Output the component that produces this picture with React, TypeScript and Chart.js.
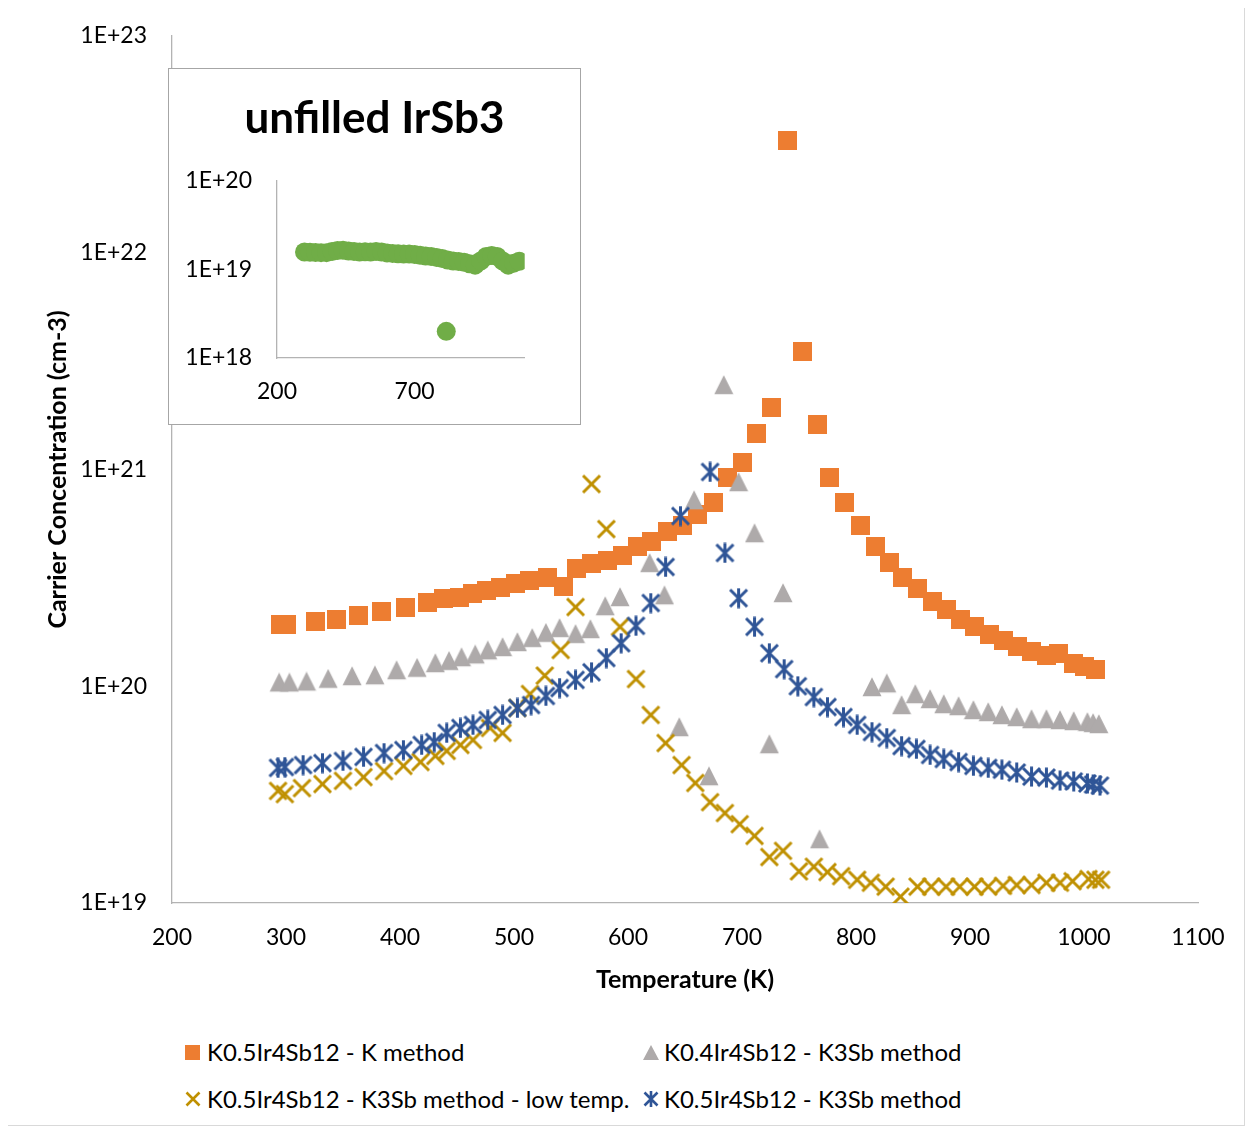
import React, { useEffect, useRef } from 'react';
import { Chart, registerables } from 'chart.js';

Chart.register(...registerables);

const FONT = 'Lato, "Open Sans", sans-serif';

// K0.5Ir4Sb12 - K method
const kMethodTemp = [295, 300, 326, 344, 364, 384, 405, 424, 438, 452, 464, 476, 488, 501, 514, 529, 543, 555, 568, 582, 595, 608, 621, 635, 648, 661, 675, 687, 700, 713, 726, 740, 753, 766, 777, 790, 804, 817, 829, 841, 854, 867, 879, 892, 904, 917, 929, 942, 954, 967, 978, 991, 1000, 1010];
const kMethodConc = [1.92e20, 1.93e20, 1.99e20, 2.04e20, 2.13e20, 2.21e20, 2.31e20, 2.43e20, 2.55e20, 2.58e20, 2.68e20, 2.76e20, 2.86e20, 2.97e20, 3.07e20, 3.17e20, 2.88e20, 3.51e20, 3.70e20, 3.82e20, 4.03e20, 4.39e20, 4.63e20, 5.15e20, 5.49e20, 6.23e20, 7.08e20, 9.23e20, 1.08e21, 1.47e21, 1.94e21, 3.28e22, 3.52e21, 1.62e21, 9.14e20, 7.08e20, 5.49e20, 4.39e20, 3.74e20, 3.19e20, 2.81e20, 2.45e20, 2.27e20, 2.04e20, 1.88e20, 1.74e20, 1.62e20, 1.52e20, 1.45e20, 1.38e20, 1.41e20, 1.27e20, 1.24e20, 1.20e20];

// K0.4Ir4Sb12 - K3Sb method
const k04Temp = [294, 303, 318, 337, 358, 378, 397, 415, 431, 443, 454, 466, 477, 490, 503, 516, 528, 540, 554, 567, 580, 593, 619, 632, 645, 658, 671, 684, 697, 711, 724, 736, 768, 814, 827, 840, 852, 865, 877, 890, 903, 916, 928, 941, 954, 967, 979, 991, 1003, 1008, 1013];
const k04Conc = [1.01e20, 1.01e20, 1.02e20, 1.05e20, 1.08e20, 1.09e20, 1.15e20, 1.18e20, 1.24e20, 1.27e20, 1.32e20, 1.36e20, 1.42e20, 1.47e20, 1.55e20, 1.62e20, 1.71e20, 1.80e20, 1.69e20, 1.78e20, 2.27e20, 2.50e20, 3.59e20, 2.55e20, 6.28e19, 7.00e20, 3.73e19, 2.38e21, 8.48e20, 4.93e20, 5.24e19, 2.61e20, 1.91e19, 9.61e19, 1.00e20, 7.94e19, 8.92e19, 8.46e19, 8.02e19, 7.85e19, 7.53e19, 7.37e19, 7.14e19, 6.99e19, 6.84e19, 6.84e19, 6.77e19, 6.70e19, 6.63e19, 6.56e19, 6.49e19];

// K0.5Ir4Sb12 - K3Sb method - low temp.
const lowTemp = [293, 299, 314, 332, 350, 368, 386, 403, 418, 431, 441, 453, 464, 479, 490, 503, 514, 527, 541, 554, 568, 581, 593, 607, 620, 633, 647, 659, 672, 685, 698, 711, 724, 736, 750, 763, 775, 787, 801, 813, 826, 839, 854, 866, 879, 891, 904, 916, 929, 941, 954, 967, 979, 990, 1004, 1010, 1015];
const lowConc = [3.29e19, 3.18e19, 3.39e19, 3.54e19, 3.66e19, 3.81e19, 4.06e19, 4.29e19, 4.47e19, 4.77e19, 5.03e19, 5.36e19, 5.65e19, 6.42e19, 6.09e19, 7.94e19, 9.21e19, 1.12e20, 1.47e20, 2.32e20, 8.57e20, 5.31e20, 1.88e20, 1.08e20, 7.37e19, 5.47e19, 4.33e19, 3.58e19, 2.92e19, 2.60e19, 2.31e19, 2.04e19, 1.63e19, 1.74e19, 1.40e19, 1.47e19, 1.39e19, 1.33e19, 1.28e19, 1.24e19, 1.19e19, 1.07e19, 1.19e19, 1.19e19, 1.19e19, 1.19e19, 1.19e19, 1.19e19, 1.20e19, 1.21e19, 1.21e19, 1.24e19, 1.24e19, 1.26e19, 1.29e19, 1.28e19, 1.28e19];

// K0.5Ir4Sb12 - K3Sb method
const k05Temp = [293, 299, 315, 332, 350, 368, 386, 403, 419, 430, 441, 453, 464, 477, 490, 503, 515, 528, 540, 554, 568, 581, 594, 607, 620, 633, 646, 672, 685, 697, 711, 724, 737, 749, 763, 775, 789, 801, 814, 827, 840, 853, 865, 877, 890, 903, 916, 928, 941, 954, 967, 979, 991, 1003, 1008, 1014];
const k05Conc = [4.20e19, 4.24e19, 4.33e19, 4.42e19, 4.52e19, 4.72e19, 4.92e19, 5.08e19, 5.36e19, 5.53e19, 6.09e19, 6.42e19, 6.63e19, 6.99e19, 7.37e19, 7.94e19, 8.19e19, 9.02e19, 9.81e19, 1.07e20, 1.16e20, 1.35e20, 1.58e20, 1.90e20, 2.42e20, 3.55e20, 6.10e20, 9.74e20, 4.12e20, 2.55e20, 1.88e20, 1.42e20, 1.20e20, 1.00e20, 8.92e19, 8.02e19, 7.21e19, 6.63e19, 6.15e19, 5.77e19, 5.30e19, 5.14e19, 4.82e19, 4.62e19, 4.47e19, 4.29e19, 4.20e19, 4.12e19, 4.00e19, 3.83e19, 3.79e19, 3.67e19, 3.64e19, 3.56e19, 3.52e19, 3.48e19];

// unfilled IrSb3 (inset)
const irsbTemp = [300, 320, 340, 360, 380, 400, 420, 440, 460, 480, 500, 520, 540, 560, 580, 600, 620, 640, 660, 680, 700, 720, 740, 760, 780, 800, 815, 820, 840, 860, 880, 900, 920, 940, 960, 980, 1000, 1020, 1040, 1060, 1080];
const irsbConc = [1.58e19, 1.57e19, 1.56e19, 1.55e19, 1.55e19, 1.60e19, 1.64e19, 1.65e19, 1.62e19, 1.60e19, 1.58e19, 1.59e19, 1.58e19, 1.60e19, 1.58e19, 1.54e19, 1.52e19, 1.51e19, 1.50e19, 1.50e19, 1.48e19, 1.45e19, 1.42e19, 1.40e19, 1.37e19, 1.33e19, 2.0e18, 1.28e19, 1.25e19, 1.23e19, 1.21e19, 1.16e19, 1.12e19, 1.25e19, 1.40e19, 1.44e19, 1.40e19, 1.25e19, 1.12e19, 1.18e19, 1.24e19];

// Axis ticks
const tempTicks = [200, 300, 400, 500, 600, 700, 800, 900, 1000, 1100];
const concTicks = [1e19, 1e20, 1e21, 1e22, 1e23];
const insetTempTicks = [200, 700];
const insetConcTicks = [1e18, 1e19, 1e20];

const seriesLabels = [
  'K0.5Ir4Sb12 - K method',
  'K0.4Ir4Sb12 - K3Sb method',
  'K0.5Ir4Sb12 - K3Sb method - low temp.',
  'K0.5Ir4Sb12 - K3Sb method',
];

const ORANGE = '#ed7d31';
const GRAY = '#aeaaaa';
const GOLD = '#bf9000';
const BLUE = '#2f5597';
const GREEN = '#70ad47';
const AXIS = '#b3b3b3';

const toPoints = (xs: number[], ys: number[]) => xs.map((x, i) => ({ x, y: ys[i] }));
const expLabel = (v: number | string) => '1E+' + Math.round(Math.log10(Number(v)));

// Marker glyphs used as point styles
function makeMarker(kind: 'square' | 'triangle' | 'x' | 'star', color: string): HTMLCanvasElement {
  const c = document.createElement('canvas');
  const ctx = c.getContext('2d')!;
  if (kind === 'square') {
    c.width = 19; c.height = 19;
    ctx.fillStyle = color;
    ctx.fillRect(0, 0, 19, 19);
  } else if (kind === 'triangle') {
    // centroid sits at the canvas centre
    const s = 19;
    c.width = 20; c.height = 26;
    const top = 13 - (2 * s) / 3;
    ctx.fillStyle = color;
    ctx.beginPath();
    ctx.moveTo(10, top);
    ctx.lineTo(10 + s / 2, top + s);
    ctx.lineTo(10 - s / 2, top + s);
    ctx.closePath();
    ctx.fill();
  } else {
    c.width = 21; c.height = 21;
    const m = 10.5, h = 8.5;
    ctx.strokeStyle = color;
    ctx.lineWidth = 3;
    ctx.beginPath();
    ctx.moveTo(m - h, m - h); ctx.lineTo(m + h, m + h);
    ctx.moveTo(m + h, m - h); ctx.lineTo(m - h, m + h);
    if (kind === 'star') {
      ctx.moveTo(m, m - 10); ctx.lineTo(m, m + 10);
    }
    ctx.stroke();
  }
  return c;
}

const MAIN_W = 1236;
const MAIN_H = 1010;
const INSET_W = 411;
const INSET_H = 355;

// keep the plot area edges exactly where the layout puts them
const fixVertical = (width: number) => (s: any) => {
  s.width = width;
  s.paddingTop = 0;
  s.paddingBottom = 0;
};
const fixHorizontal = (height: number, rightGap = 0) => (s: any) => {
  s.height = height;
  s.paddingLeft = 0;
  s.paddingRight = rightGap;
};

export default function App() {
  const mainRef = useRef<HTMLCanvasElement>(null);
  const insetRef = useRef<HTMLCanvasElement>(null);

  useEffect(() => {
    const tickFont = { family: FONT, size: 23 };
    const titleFont = { family: FONT, size: 25, weight: 'bold' as const };

    const main = new Chart(mainRef.current!, {
      type: 'scatter',
      data: {
        datasets: [
          { label: seriesLabels[0], data: toPoints(kMethodTemp, kMethodConc), pointStyle: makeMarker('square', ORANGE), pointRadius: 10, order: 4, backgroundColor: ORANGE, borderColor: ORANGE },
          { label: seriesLabels[1], data: toPoints(k04Temp, k04Conc), pointStyle: makeMarker('triangle', GRAY), pointRadius: 10, order: 3, backgroundColor: GRAY, borderColor: GRAY },
          { label: seriesLabels[2], data: toPoints(lowTemp, lowConc), pointStyle: makeMarker('x', GOLD), pointRadius: 10, order: 2, backgroundColor: GOLD, borderColor: GOLD },
          { label: seriesLabels[3], data: toPoints(k05Temp, k05Conc), pointStyle: makeMarker('star', BLUE), pointRadius: 10, order: 1, backgroundColor: BLUE, borderColor: BLUE },
        ],
      },
      options: {
        responsive: false,
        animation: false,
        events: [],
        layout: { padding: { left: 0, top: 29, right: MAIN_W - 1190, bottom: 0 } },
        plugins: { legend: { display: false }, tooltip: { enabled: false } },
        scales: {
          x: {
            type: 'linear',
            min: 200,
            max: 1100,
            afterBuildTicks: (s: any) => { s.ticks = tempTicks.map((v) => ({ value: v })); },
            afterFit: fixHorizontal(MAIN_H - 896),
            grid: { display: false, drawTicks: false },
            border: { display: true, color: AXIS, width: 1.3 },
            ticks: { padding: 21, font: tickFont, color: '#000', maxRotation: 0, autoSkip: false, callback: (v: any) => String(v) },
            title: { display: true, text: 'Temperature (K)', font: titleFont, color: '#000', padding: { top: 0, bottom: 22 } },
          },
          y: {
            type: 'logarithmic',
            min: 1e19,
            max: 1e23,
            afterBuildTicks: (s: any) => { s.ticks = concTicks.map((v) => ({ value: v })); },
            afterFit: fixVertical(164),
            grid: { display: false, drawTicks: false },
            border: { display: true, color: AXIS, width: 1.3 },
            ticks: { padding: 25, font: tickFont, color: '#000', autoSkip: false, callback: (v: any) => expLabel(v) },
            title: { display: true, text: 'Carrier Concentration (cm-3)', font: titleFont, color: '#000', padding: { top: 35, bottom: 0 } },
          },
        },
      },
    } as any);

    const inset = new Chart(insetRef.current!, {
      type: 'scatter',
      data: {
        datasets: [
          { label: 'unfilled IrSb3', data: toPoints(irsbTemp, irsbConc), pointStyle: 'circle', pointRadius: 9.5, backgroundColor: GREEN, borderWidth: 0 },
        ],
      },
      options: {
        responsive: false,
        animation: false,
        events: [],
        // no outer padding so the title is centred on the whole box;
        // the right-hand gap comes from the x axis padding instead
        layout: { padding: 0 },
        plugins: {
          legend: { display: false },
          tooltip: { enabled: false },
          title: {
            display: true,
            text: 'unfilled IrSb3',
            font: { family: FONT, size: 44, weight: 'bold' },
            color: '#000',
            padding: { top: 23.6, bottom: 35.6 },
          },
        },
        scales: {
          x: {
            type: 'linear',
            min: 200,
            max: 1100,
            afterBuildTicks: (s: any) => { s.ticks = insetTempTicks.map((v) => ({ value: v })); },
            afterFit: fixHorizontal(INSET_H - 289, INSET_W - 355.7),
            grid: { display: false, drawTicks: false },
            border: { display: true, color: AXIS, width: 1.3 },
            ticks: { padding: 20, font: tickFont, color: '#000', maxRotation: 0, autoSkip: false, callback: (v: any) => String(v) },
          },
          y: {
            type: 'logarithmic',
            min: 1e18,
            max: 1e20,
            afterBuildTicks: (s: any) => { s.ticks = insetConcTicks.map((v) => ({ value: v })); },
            afterFit: fixVertical(108),
            grid: { display: false, drawTicks: false },
            border: { display: true, color: AXIS, width: 1.3 },
            ticks: { padding: 25, font: tickFont, color: '#000', autoSkip: false, callback: (v: any) => expLabel(v) },
          },
        },
      },
    } as any);

    return () => {
      main.destroy();
      inset.destroy();
    };
  }, []);

  const legendText: React.CSSProperties = {
    position: 'absolute',
    fontFamily: FONT,
    fontSize: 24,
    lineHeight: '30px',
    height: 30,
    whiteSpace: 'nowrap',
    color: '#000',
  };

  return (
    <div
      style={{
        position: 'relative',
        left: -1,
        top: -2,
        width: MAIN_W,
        height: 1118,
        border: '1px solid #d9d9d9',
        background: '#fff',
      }}
    >
      <canvas ref={mainRef} width={MAIN_W} height={MAIN_H} style={{ position: 'absolute', left: 0, top: 0, width: MAIN_W, height: MAIN_H }} />
      <div
        style={{
          position: 'absolute',
          left: 160,
          top: 61,
          width: 413,
          height: 357,
          boxSizing: 'border-box',
          border: '1px solid #a6a6a6',
          background: '#fff',
        }}
      >
        <canvas ref={insetRef} width={INSET_W} height={INSET_H} style={{ display: 'block', width: INSET_W, height: INSET_H }} />
      </div>

      {/* legend */}
      <svg style={{ position: 'absolute', left: 177, top: 1038 }} width={15} height={15}>
        <rect x={0} y={0} width={15} height={15} fill={ORANGE} />
      </svg>
      <span style={{ ...legendText, left: 199, top: 1030 }}>{seriesLabels[0]}</span>

      <svg style={{ position: 'absolute', left: 635, top: 1038 }} width={16} height={15}>
        <polygon points="8,0 16,15 0,15" fill={GRAY} />
      </svg>
      <span style={{ ...legendText, left: 656, top: 1030 }}>{seriesLabels[1]}</span>

      <svg style={{ position: 'absolute', left: 177, top: 1084 }} width={16} height={16}>
        <path d="M1.5,1.5 L14.5,14.5 M14.5,1.5 L1.5,14.5" stroke={GOLD} strokeWidth={2.6} fill="none" />
      </svg>
      <span style={{ ...legendText, left: 199, top: 1077 }}>{seriesLabels[2]}</span>

      <svg style={{ position: 'absolute', left: 635, top: 1084 }} width={16} height={16}>
        <path d="M1.5,1.5 L14.5,14.5 M14.5,1.5 L1.5,14.5 M8,0 L8,16" stroke={BLUE} strokeWidth={2.6} fill="none" />
      </svg>
      <span style={{ ...legendText, left: 656, top: 1077 }}>{seriesLabels[3]}</span>
    </div>
  );
}
